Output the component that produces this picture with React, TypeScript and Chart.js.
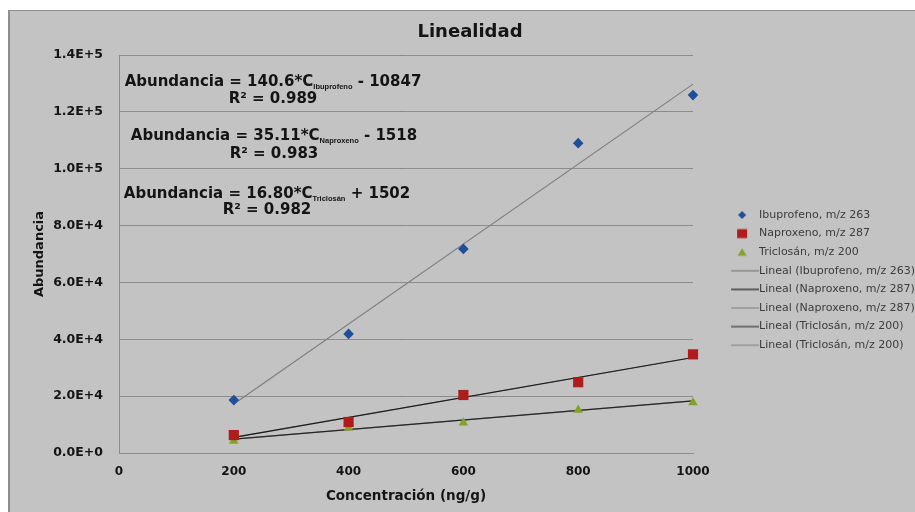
import { useEffect, useRef } from "react";
import { Chart, registerables } from "chart.js";

Chart.register(...registerables);

// ---- data ----
const concentrations = [200, 400, 600, 800, 1000];
const ibuprofeno = [18600, 41900, 71800, 109000, 125900];
const naproxeno = [6300, 10900, 20400, 24900, 34700];
const triclosan = [4200, 8800, 10600, 15100, 17800];

const trendX = [200, 1000];
const trendIbuprofeno = [17273, 129753];
const trendNaproxeno = [5504, 33592];
const trendTriclosan = [4862, 18302];

const seriesNames = ["Ibuprofeno, m/z 263", "Naproxeno, m/z 287", "Triclosán, m/z 200"];
const trendNames = [
  "Lineal (Ibuprofeno, m/z 263)",
  "Lineal (Naproxeno, m/z 287)",
  "Lineal (Naproxeno, m/z 287)",
  "Lineal (Triclosán, m/z 200)",
  "Lineal (Triclosán, m/z 200)",
];

const xTickLabels = ["0", "200", "400", "600", "800", "1000"];
const yTickLabels = ["0.0E+0", "2.0E+4", "4.0E+4", "6.0E+4", "8.0E+4", "1.0E+5", "1.2E+5", "1.4E+5"];

const eqLhs = ["Abundancia = 140.6*C", "Abundancia = 35.11*C", "Abundancia = 16.80*C"];
const eqSub = ["Ibuprofeno", "Naproxeno", "Triclosán"];
const eqRhs = [" - 10847", " - 1518", " + 1502"];
const eqR2 = ["R² = 0.989", "R² = 0.983", "R² = 0.982"];

const TEXT = "#141414";
const GRID = "#8c8c8c";
const BLUE = "#1f4f9b";
const RED = "#b01c1c";
const GREEN = "#86a12a";

const pts = (xs: number[], ys: number[]) => xs.map((x, i) => ({ x, y: ys[i] }));

function makeLegendImage(kind: string, color: string): HTMLCanvasElement {
  const c = document.createElement("canvas");
  c.width = 64;
  c.height = 14;
  const g = c.getContext("2d")!;
  g.fillStyle = color;
  g.strokeStyle = color;
  const cx = 47;
  const cy = 7;
  if (kind === "diamond") {
    g.beginPath();
    g.moveTo(cx, cy - 4);
    g.lineTo(cx + 4, cy);
    g.lineTo(cx, cy + 4);
    g.lineTo(cx - 4, cy);
    g.closePath();
    g.fill();
  } else if (kind === "square") {
    g.fillRect(cx - 5, cy - 4.5, 10, 9);
  } else if (kind === "triangle") {
    g.beginPath();
    g.moveTo(cx, cy - 4);
    g.lineTo(cx + 4.5, cy + 3.5);
    g.lineTo(cx - 4.5, cy + 3.5);
    g.closePath();
    g.fill();
  } else {
    g.lineWidth = 1.2;
    g.beginPath();
    g.moveTo(36, cy);
    g.lineTo(64, cy);
    g.stroke();
  }
  return c;
}

const equationPlugin = {
  id: "equations",
  afterDatasetsDraw(chart: any) {
    const ctx = chart.ctx;
    const spots = [
      { cx: 265, y: 70, ry: 87 },
      { cx: 266, y: 124, ry: 142 },
      { cx: 259, y: 182, ry: 198 },
    ];
    ctx.save();
    ctx.fillStyle = TEXT;
    ctx.textBaseline = "alphabetic";
    ctx.textAlign = "left";
    const mainFont = "bold 15px 'DejaVu Sans'";
    const subFont = "bold 7.5px 'Liberation Sans'";
    eqLhs.forEach((lhs, i) => {
      const s = spots[i];
      ctx.font = mainFont;
      const w1 = ctx.measureText(lhs).width;
      const w3 = ctx.measureText(eqRhs[i]).width;
      ctx.font = subFont;
      const w2 = ctx.measureText(eqSub[i]).width;
      const total = w1 + w2 + w3;
      let x = s.cx - total / 2;
      const base = s.y + 5.5;
      ctx.font = mainFont;
      ctx.fillText(lhs, x, base);
      x += w1;
      ctx.font = subFont;
      ctx.fillText(eqSub[i], x, base + 3);
      x += w2;
      ctx.font = mainFont;
      ctx.fillText(eqRhs[i], x, base);
      ctx.textAlign = "center";
      ctx.fillText(eqR2[i], s.cx, s.ry + 5.5);
      ctx.textAlign = "left";
    });
    ctx.restore();
  },
};

export default function App() {
  const ref = useRef<HTMLCanvasElement>(null);

  useEffect(() => {
    if (!ref.current) return;
    const legendImages = [
      makeLegendImage("diamond", BLUE),
      makeLegendImage("square", RED),
      makeLegendImage("triangle", GREEN),
      makeLegendImage("line", "#7a7a7a"),
      makeLegendImage("line", "#1a1a1a"),
      makeLegendImage("line", "#8a8a8a"),
      makeLegendImage("line", "#3a3a3a"),
      makeLegendImage("line", "#8a8a8a"),
    ];

    const lineDs = (label: string, ys: number[], color: string) => ({
      label,
      data: pts(trendX, ys),
      showLine: true,
      borderColor: color,
      backgroundColor: color,
      borderWidth: 1.2,
      pointRadius: 0,
      fill: false,
      clip: false,
    });

    const chart = new Chart(ref.current, {
      type: "scatter",
      data: {
        datasets: [
          {
            label: seriesNames[0],
            data: pts(concentrations, ibuprofeno),
            pointStyle: "rectRot",
            pointRadius: 5.3,
            backgroundColor: BLUE,
            borderColor: BLUE,
            borderWidth: 0,
            clip: false,
          },
          {
            label: seriesNames[1],
            data: pts(concentrations, naproxeno),
            pointStyle: "rect",
            pointRadius: 7.2,
            backgroundColor: RED,
            borderColor: RED,
            borderWidth: 0,
            clip: false,
          },
          {
            label: seriesNames[2],
            data: pts(concentrations, triclosan),
            pointStyle: "triangle",
            pointRadius: 5.5,
            backgroundColor: GREEN,
            borderColor: GREEN,
            borderWidth: 0,
            clip: false,
          },
          lineDs(trendNames[0], trendIbuprofeno, "#7f7f7f"),
          lineDs(trendNames[1], trendNaproxeno, "#1a1a1a"),
          lineDs(trendNames[2], trendNaproxeno, "#8a8a8a"),
          lineDs(trendNames[3], trendTriclosan, "#262626"),
          lineDs(trendNames[4], trendTriclosan, "#8a8a8a"),
        ] as any,
      },
      options: {
        animation: false,
        responsive: true,
        maintainAspectRatio: false,
        layout: { padding: { left: 17, right: 0, top: 0, bottom: 0 } },
        plugins: {
          tooltip: { enabled: false },
          title: {
            display: true,
            text: "Linealidad",
            color: TEXT,
            font: { family: "'DejaVu Sans'", size: 18, weight: "bold" },
            padding: { top: 11.2, bottom: 12.2 },
          },
          legend: {
            position: "right",
            maxWidth: 222,
            title: { display: true, text: " ", font: { size: 10 }, padding: 13.1 },
            labels: {
              usePointStyle: true,
              pointStyleWidth: 53,
              padding: 7.6,
              color: "#3c3c3c",
              font: { family: "'DejaVu Sans'", size: 11 },
              generateLabels: (ch: any) => {
                const items = Chart.defaults.plugins.legend.labels.generateLabels(ch);
                return items.map((it: any, i: number) => ({ ...it, pointStyle: legendImages[i] }));
              },
            },
          },
        },
        scales: {
          x: {
            type: "linear",
            min: 0,
            max: 1000,
            afterFit: (s: any) => {
              s.height = 59;
            },
            ticks: {
              stepSize: 200,
              padding: 12,
              color: TEXT,
              font: { family: "'DejaVu Sans'", size: 12, weight: "bold" },
              callback: (_v: any, i: number) => xTickLabels[i],
            },
            grid: { display: false, drawTicks: false },
            border: { display: true, color: GRID },
            title: {
              display: true,
              text: "Concentración (ng/g)",
              color: TEXT,
              font: { family: "'DejaVu Sans'", size: 13.5, weight: "bold" },
              padding: { top: 4, bottom: 7 },
            },
          },
          y: {
            type: "linear",
            min: 0,
            max: 140000,
            afterFit: (s: any) => {
              s.width = 94;
            },
            ticks: {
              stepSize: 20000,
              padding: 16,
              color: TEXT,
              font: { family: "'DejaVu Sans'", size: 12.5, weight: "bold" },
              callback: (_v: any, i: number) => yTickLabels[i],
            },
            grid: { color: GRID, drawTicks: false },
            border: { display: true, color: GRID },
            title: {
              display: true,
              text: "Abundancia",
              color: TEXT,
              font: { family: "'DejaVu Sans'", size: 13, weight: "bold" },
              padding: { top: 7.2, bottom: 0 },
            },
          },
        },
      } as any,
      plugins: [equationPlugin],
    });
    return () => chart.destroy();
  }, []);

  return (
    <div
      style={{
        position: "absolute",
        left: 8,
        top: 10,
        width: 907,
        height: 502,
        background: "#c3c3c3",
        boxShadow: "inset 2px 1px 0 #8e8e8e",
        overflow: "hidden",
      }}
    >
      <canvas ref={ref} />
    </div>
  );
}
